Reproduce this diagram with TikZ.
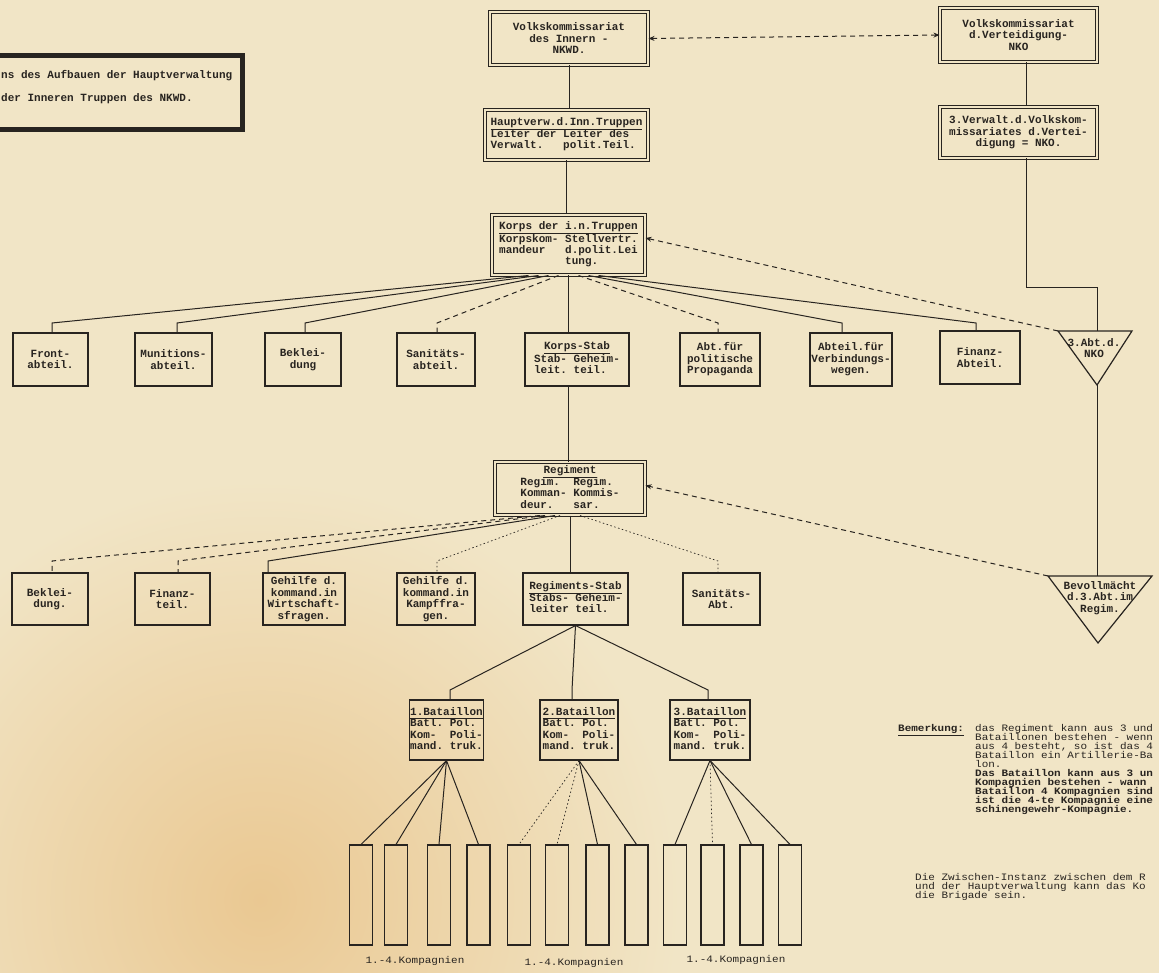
\documentclass[tikz,border=0pt]{standalone}
\usepackage{fontspec}
\setmonofont{Liberation Mono}
\newfontfamily\notemono[FakeStretch=1.12]{Liberation Mono}
\usetikzlibrary{arrows.meta}
\definecolor{ink}{RGB}{40,36,32}
\definecolor{paper}{RGB}{241,229,198}
\definecolor{stain}{RGB}{234,200,146}
\newcommand{\tw}{\ttfamily\bfseries\fontsize{11}{11.5}\selectfont}
\newcommand{\titlefont}{\ttfamily\bfseries\fontsize{11}{11}\selectfont}
\newcommand{\notefont}{\notemono\fontsize{9.8}{9}\selectfont\lineskiplimit=-20pt\lineskip=0pt}
\newcommand{\head}[1]{\multicolumn{2}{@{}c@{}}{#1}}

\begin{document}
\begin{tikzpicture}[x=1pt,y=-1pt,
    box/.style={draw=ink,line width=1.1pt,font=\tw,text=ink,align=center,inner sep=1pt},
    dbox/.style={box,line width=1pt,double=paper,double distance=1.8pt},
    conn/.style={draw=ink,line width=1pt},
    dconn/.style={conn,dash pattern=on 5pt off 4pt},
    pconn/.style={conn,line width=0.7pt,dash pattern=on 1.5pt off 2.5pt},
    arr/.style={dconn,-{Stealth[length=6pt,width=5pt]}}]
    \renewcommand{\arraystretch}{0.98}
    \path[use as bounding box,fill=paper] (0,0) rectangle (1159,973);
    \shade[inner color=stain,outer color=paper] (260,900) circle (420);

    % title
    \draw[ink,line width=5pt] (-20,55.5) rectangle (242,129.5);
    \node[font=\titlefont,text=ink,anchor=base west,inner sep=0] (title1) at (1,79) {ns des Aufbauen der Hauptverwaltung};
    \node[font=\titlefont,text=ink,anchor=base west,inner sep=0] (title2) at (1,102) {der Inneren Truppen des NKWD.};

    % top
    \node[dbox,minimum width=158pt,minimum height=53pt] (vkinnern) at (569,38.5) {Volkskommissariat\\des Innern -\\NKWD.};
    \node[dbox,minimum width=157pt,minimum height=54pt] (vkvert) at (1018.5,35) {Volkskommissariat\\d.Verteidigung-\\NKO};
    \node[dbox,minimum width=163pt,minimum height=50pt] (hauptverw) at (566.5,135) {\begin{tabular}{@{}l@{\ }l@{}}\head{Hauptverw.d.Inn.Truppen}\\\hline Leiter der & Leiter des\\Verwalt. & polit.Teil.\end{tabular}};
    \node[dbox,minimum width=157pt,minimum height=51pt] (verwnko) at (1018.5,132.5) {3.Verwalt.d.Volkskom-\\missariates d.Vertei-\\digung = NKO.};
    \node[dbox,minimum width=153pt,minimum height=60pt] (korps) at (568.5,245) {\begin{tabular}{@{}l@{\ }l@{}}\head{\underline{Korps der i.n.Truppen}}\\Korpskom- & Stellvertr.\\mandeur & d.polit.Lei\\ & tung.\end{tabular}};

    % first row
    \node[box,minimum width=75pt,minimum height=53pt] (front) at (50.5,359.5) {Front-\\abteil.};
    \node[box,minimum width=77pt,minimum height=53pt] (munition) at (173.5,359.5) {Munitions-\\abteil.};
    \node[box,minimum width=76pt,minimum height=53pt] (bekleid) at (303,359.5) {Beklei-\\dung};
    \node[box,minimum width=78pt,minimum height=53pt] (sanit) at (436,359.5) {Sanitäts-\\abteil.};
    \node[box,minimum width=104pt,minimum height=53pt] (korpsstab) at (577,359.5) {\begin{tabular}{@{}l@{\ }l@{}}\head{\underline{Korps-Stab}}\\Stab- & Geheim-\\leit. & teil.\end{tabular}};
    \node[box,minimum width=80pt,minimum height=53pt] (propag) at (720,359.5) {Abt.für\\politische\\Propaganda};
    \node[box,minimum width=82pt,minimum height=53pt] (verbind) at (851,359.5) {Abteil.für\\Verbindungs-\\wegen.};
    \node[box,minimum width=80pt,minimum height=53pt] (finanz) at (980,357.5) {Finanz-\\Abteil.};

    \coordinate (t1a) at (1058,331);
    \coordinate (t1b) at (1132,331);
    \coordinate (t1c) at (1097,385);
    \coordinate (t1top) at (1097,331);
    \draw[conn,line width=1.2pt] (t1a) -- (t1b) -- (t1c) -- cycle;
    \node[font=\tw,text=ink,align=center,inner sep=0] (abtnko) at (1094,348) {3.Abt.d.\\NKO};

    % regiment
    \node[dbox,minimum width=150pt,minimum height=53pt] (regiment) at (570,488.5) {\begin{tabular}{@{}l@{\ }l@{}}\head{\underline{Regiment}}\\Regim. & Regim.\\Komman- & Kommis-\\deur. & sar.\end{tabular}};

    % second row
    \node[box,minimum width=76pt,minimum height=52pt] (bekl2) at (50,599) {Beklei-\\dung.};
    \node[box,minimum width=75pt,minimum height=52pt] (finanz2) at (172.5,599) {Finanz-\\teil.};
    \node[box,minimum width=82pt,minimum height=52pt] (gehw) at (304,599) {Gehilfe d.\\kommand.in\\Wirtschaft-\\sfragen.};
    \node[box,minimum width=78pt,minimum height=52pt] (gehk) at (436,599) {Gehilfe d.\\kommand.in\\Kampffra-\\gen.};
    \node[box,minimum width=105pt,minimum height=52pt] (regstab) at (575.5,599) {\begin{tabular}{@{}l@{\ }l@{}}\head{Regiments-Stab}\\\hline Stabs- & Geheim-\\leiter & teil.\end{tabular}};
    \node[box,minimum width=77pt,minimum height=52pt] (sanabt) at (721.5,599) {Sanitäts-\\Abt.};

    \coordinate (t2a) at (1048,576);
    \coordinate (t2b) at (1152,576);
    \coordinate (t2c) at (1098,643);
    \coordinate (t2top) at (1097,576);
    \draw[conn,line width=1.2pt] (t2a) -- (t2b) -- (t2c) -- cycle;
    \node[font=\tw,text=ink,align=center,inner sep=0] (bevoll) at (1100,598) {Bevollmächt\\d.3.Abt.im\\Regim.};

    % battalions
    \foreach \n/\x/\w/\k in {bat1/446.5/73/1,bat2/579/78/2,bat3/710/80/3}
        \node[box,minimum width=\w pt,minimum height=60pt] (\n) at (\x,730) {\begin{tabular}{@{}l@{\ }l@{}}\head{\k.Bataillon}\\\hline Batl. & Pol.\\Kom- & Poli-\\mand. & truk.\end{tabular}};

    % companies
    \foreach \i/\x in {1/361,2/396,3/439,4/478.5,5/519,6/557,7/597.5,8/636.5,9/675,10/712.5,11/751.5,12/790}
        \node[box,minimum width=23pt,minimum height=100pt] (k\i) at (\x,895) {};
    \node[font=\notefont,text=ink] (lab1) at (415,961) {1.-4.Kompagnien};
    \node[font=\notefont,text=ink] (lab2) at (574,963) {1.-4.Kompagnien};
    \node[font=\notefont,text=ink] (lab3) at (736,960) {1.-4.Kompagnien};

    % connections
    \draw[conn] (vkinnern.south) -- (vkinnern.south |- hauptverw.north);
    \draw[conn] (hauptverw.south) -- (hauptverw.south |- korps.north);
    \draw[conn] (korps.south) -- (korps.south |- korpsstab.north);
    \draw[conn] (korps.south |- korpsstab.south) -- (korps.south |- regiment.north);
    \draw[conn] (regiment.south) -- (regiment.south |- regstab.north);
    \draw[conn] ([xshift=8pt]vkvert.south) -- ([xshift=8pt]verwnko.north);
    \draw[conn] ([xshift=8pt]verwnko.south) -- ++(0,129) -| (t1top);
    \draw[conn] (t1c) -- (t2top);

    \foreach \n/\x/\dx/\s in {front/52/-40/conn,munition/177/-30/conn,bekleid/305/-20/conn,sanit/437/-10/dconn,propag/718/10/dconn,verbind/842/20/conn,finanz/976/30/conn}
        \draw[\s] ([xshift=\dx pt]korps.south) -- (\x,323) coordinate (tmp) -- (tmp |- \n.north);
    \foreach \n/\x/\dx/\s in {bekl2/52/-30/dconn,finanz2/178/-25/dconn,gehw/268/-15/conn,gehk/437/-10/pconn,sanabt/718/10/pconn}
        \draw[\s] ([xshift=\dx pt]regiment.south) -- (\x,561) coordinate (tmp) -- (tmp |- \n.north);
    \foreach \n/\x in {bat1/450,bat2/572,bat3/708}
        \draw[conn] (regstab.south) -- (\x,690) coordinate (tmp) -- (tmp |- \n.north);
    \foreach \b/\i/\s in {bat1/1/conn,bat1/2/conn,bat1/3/conn,bat1/4/conn,bat2/5/pconn,bat2/6/pconn,bat2/7/conn,bat2/8/conn,bat3/9/conn,bat3/10/pconn,bat3/11/conn,bat3/12/conn}
        \draw[\s] (\b.south) -- (k\i.north);

    \draw[dconn,{Stealth[length=6pt,width=5pt]}-{Stealth[length=6pt,width=5pt]}] (vkinnern.east) -- (vkvert.west);
    \draw[arr] (t1a) -- ([yshift=7pt]korps.east);
    \draw[arr] (t2a) -- ([yshift=3pt]regiment.east);

    % note
    \node[font=\notefont\bfseries,text=ink,anchor=north west,inner sep=0] (bemlabel) at (898,724) {\underline{Bemerkung:}};
    \node[font=\notefont,text=ink,anchor=north west,inner sep=0,align=left] (bemtext) at (975,724) {das Regiment kann aus 3 und\\Bataillonen bestehen - wenn\\aus 4 besteht, so ist das 4\\Bataillon ein Artillerie-Ba\\lon.\\\bfseries Das Bataillon kann aus 3 un\\\bfseries Kompagnien bestehen - wann\\\bfseries Bataillon 4 Kompagnien sind\\\bfseries ist die 4-te Kompagnie eine\\\bfseries schinengewehr-Kompagnie.};
    \node[font=\notefont,text=ink,anchor=north west,inner sep=0,align=left] (bemtext2) at (915,873) {Die Zwischen-Instanz zwischen dem R\\und der Hauptverwaltung kann das Ko\\die Brigade sein.};
\end{tikzpicture}
\end{document}
